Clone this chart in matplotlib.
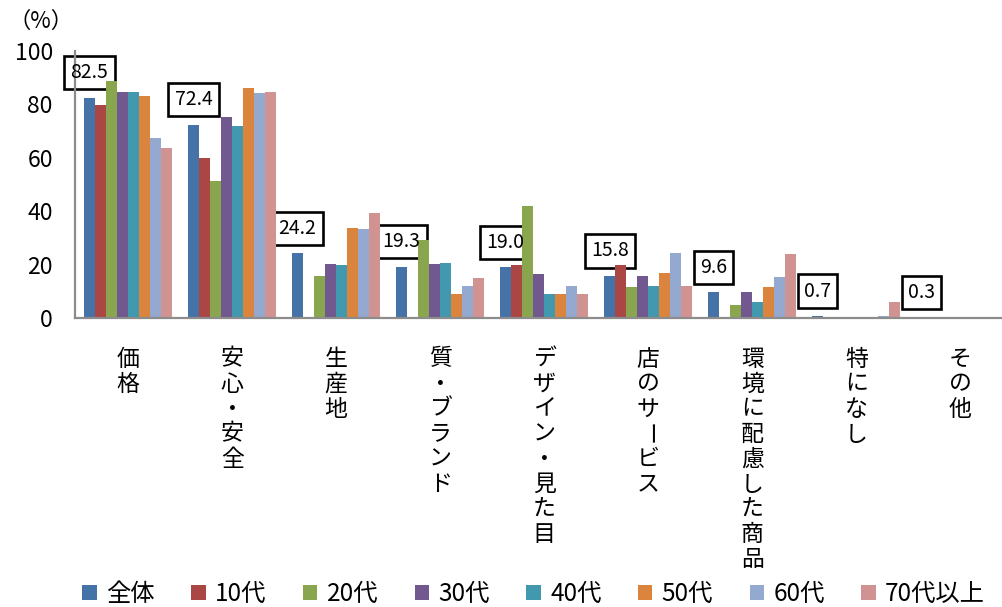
import numpy as np
import matplotlib

matplotlib.use("Agg")
import matplotlib.pyplot as plt
from matplotlib.patches import Patch

plt.rcParams["font.family"] = ["Noto Sans CJK JP", "DejaVu Sans"]

CATEGORIES = ["価格", "安心・安全", "生産地", "質・ブランド", "デザイン・見た目",
              "店のサービス", "環境に配慮した商品", "特になし", "その他"]
SERIES = ["全体", "10代", "20代", "30代", "40代", "50代", "60代", "70代以上"]

ALL = [82.5, 72.4, 24.2, 19.3, 19.0, 15.8, 9.6, 0.7, 0.3]
AGE_10 = [79.8, 60.0, 0.0, 0.0, 19.9, 19.9, 0.0, 0.0, 0.0]
AGE_20 = [88.8, 51.3, 15.7, 29.2, 41.9, 11.6, 4.9, 0.3, 0.0]
AGE_30 = [84.8, 75.3, 20.2, 20.2, 16.5, 15.7, 9.7, 0.3, 0.3]
AGE_40 = [84.8, 71.9, 19.9, 20.6, 9.0, 12.0, 6.0, 0.0, 0.3]
AGE_50 = [83.3, 86.0, 33.7, 9.0, 9.0, 16.9, 11.6, 0.0, 0.0]
AGE_60 = [67.5, 84.4, 33.3, 12.0, 12.0, 24.3, 15.4, 0.8, 0.0]
AGE_70 = [63.8, 84.6, 39.3, 15.0, 9.0, 12.0, 24.0, 6.0, 0.0]

COLORS = ["#4572A7", "#AA4643", "#89A54E", "#71588F",
          "#4198AF", "#DB843D", "#93A9CF", "#D19392"]


def main() -> None:
    values = [ALL, AGE_10, AGE_20, AGE_30, AGE_40, AGE_50, AGE_60, AGE_70]
    fig = plt.figure(figsize=(10.03, 6.07), dpi=100)
    ax = fig.add_axes([0.0748, 0.476, 0.9252, 0.44])

    x = np.arange(len(CATEGORIES))
    width = 0.106
    n = len(SERIES)
    for k, (name, vals, col) in enumerate(zip(SERIES, values, COLORS)):
        pos = x + (k - (n - 1) / 2) * width
        ax.bar(pos, vals, width=width, color=col, label=name, linewidth=0, zorder=3)

    # boxed value labels above the overall bars: box under the bars, text on top
    pos0 = x - (n - 1) / 2 * width
    for xi, v in zip(pos0, ALL):
        kw = dict(xy=(xi, v), xytext=(0, 18), textcoords="offset points",
                  ha="center", va="center", fontsize=14)
        ax.annotate(f"{v:.1f}", color="none", zorder=2,
                    bbox=dict(boxstyle="square,pad=0.32", fc="white", ec="black", lw=1.9), **kw)
        ax.annotate(f"{v:.1f}", color="black", zorder=5, **kw)

    ax.set_xlim(-0.51, 8.41)
    ax.set_ylim(0, 100)
    ax.set_yticks(range(0, 101, 20))
    ax.set_xticks([])
    ax.tick_params(axis="y", length=0, pad=16, labelsize=16.5)
    for side in ("top", "right"):
        ax.spines[side].set_visible(False)
    for side in ("left", "bottom"):
        ax.spines[side].set_color("#8c8c8c")
        ax.spines[side].set_linewidth(1.6)
        ax.spines[side].set_zorder(4)

    # vertical (tategaki) category labels, one character per row
    step = 25
    for xi, cat in zip(x, CATEGORIES):
        for i, ch in enumerate(cat):
            ax.annotate(ch, xy=(xi, 0), xytext=(0, -41 - i * step),
                        textcoords="offset pixels", ha="center", va="center",
                        fontsize=16.5, rotation=-90 if ch == "ー" else 0)

    fig.text(0.008, 0.965, "（%）", fontsize=16, va="center", ha="left")

    handles = [Patch(facecolor=c, edgecolor="none") for c in COLORS]
    fig.legend(handles, SERIES, loc="lower center", bbox_to_anchor=(0.532, -0.036), ncol=8,
               frameon=False, fontsize=17.5, handlelength=0.6, handleheight=0.6,
               handletextpad=0.38, columnspacing=1.5)

    fig.savefig("out.png", dpi=100)
    plt.close(fig)


if __name__ == "__main__":
    main()
